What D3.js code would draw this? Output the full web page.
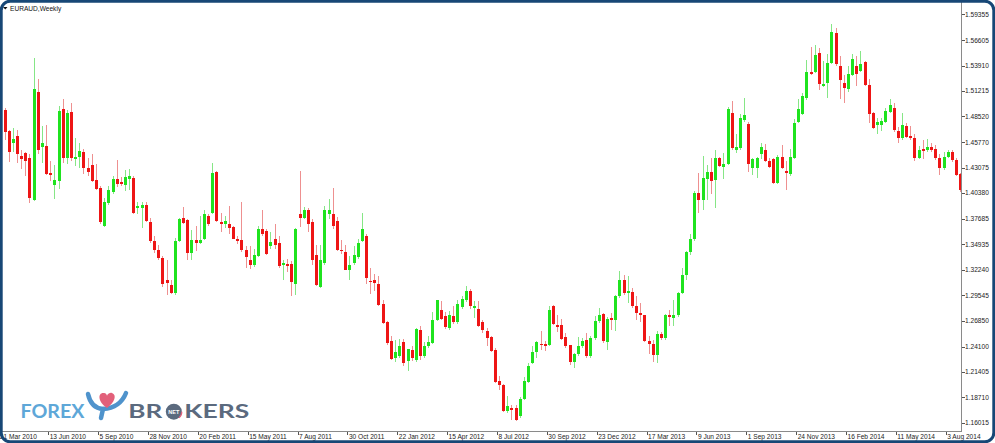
<!DOCTYPE html>
<html><head><meta charset="utf-8">
<script src="https://cdn.jsdelivr.net/npm/d3@7"></script>
<style>html,body{margin:0;padding:0;background:#fff;overflow:hidden}</style>
</head><body><svg id="c" width="995" height="443"></svg>
<script>
const chartTitle = "EURAUD,Weekly";
const firstWeek = "2010-03-28";
const open = [1.4919,1.4696,1.4565,1.4643,1.4430,1.4459,1.4406,1.3963,1.5110,1.4530,
1.4537,1.4247,1.4122,1.4165,1.4934,1.4413,1.4898,1.4403,1.4424,1.4473,
1.4307,1.4335,1.4172,1.4095,1.3694,1.3928,1.4048,1.4183,1.4154,1.4122,
1.4183,1.4201,1.3878,1.3878,1.3907,1.3729,1.3535,1.3439,1.3351,1.3113,
1.3067,1.2979,1.3527,1.3776,1.3751,1.3404,1.3538,1.3510,1.3546,1.3793,
1.3829,1.4260,1.3729,1.3705,1.3715,1.3680,1.3546,1.3538,1.3439,1.3333,
1.3280,1.3368,1.3652,1.3634,1.3474,1.3553,1.3510,1.3277,1.3287,1.3287,
1.3078,1.3811,1.3776,1.3864,1.3729,1.3376,1.3043,1.3298,1.3811,1.3811,
1.3740,1.3439,1.3411,1.3227,1.3298,1.3362,1.3527,1.3581,1.3110,1.3121,
1.3078,1.2866,1.2667,1.2465,1.2289,1.2306,1.2455,1.2253,1.2377,1.2263,
1.2589,1.2306,1.2420,1.2448,1.2696,1.2802,1.2738,1.2608,1.2731,1.2667,
1.2831,1.2901,1.2996,1.2820,1.2809,1.2667,1.2571,1.2508,1.2377,1.2040,
1.1998,1.1722,1.1758,1.1758,1.1668,1.1856,1.2034,1.2236,1.2353,1.2438,
1.2438,1.2430,1.2837,1.2635,1.2635,1.2508,1.2423,1.2246,1.2331,1.2412,
1.2483,1.2306,1.2501,1.2678,1.2756,1.2459,1.2714,1.2696,1.2943,1.3121,
1.2979,1.2990,1.2837,1.2767,1.2749,1.2473,1.2438,1.2316,1.2544,1.2501,
1.2741,1.2714,1.2741,1.2979,1.3174,1.3415,1.3546,1.4042,1.3960,1.4183,
1.4265,1.4172,1.4406,1.4314,1.4350,1.4891,1.4491,1.4512,1.4810,1.4775,
1.4307,1.4307,1.4456,1.4491,1.4377,1.4395,1.4148,1.4420,1.4271,1.4236,
1.4406,1.4796,1.4881,1.5043,1.5327,1.5327,1.5529,1.5174,1.5210,1.5423,
1.5741,1.5386,1.5210,1.5139,1.5291,1.5386,1.5333,1.5433,1.5185,1.4891,
1.4760,1.4760,1.4796,1.4902,1.4945,1.4696,1.4618,1.4749,1.4643,1.4618,
1.4413,1.4502,1.4491,1.4526,1.4502,1.4406,1.4300,1.4420,1.4477,1.4385,
1.4236];
const high = [1.4937,1.4703,1.4732,1.4707,1.4494,1.4473,1.4448,1.5476,1.5253,1.4749,
1.4757,1.4377,1.4332,1.4962,1.5033,1.4916,1.4990,1.4626,1.4565,1.4502,
1.4413,1.4448,1.4342,1.4109,1.3989,1.4112,1.4215,1.4388,1.4204,1.4282,
1.4289,1.4215,1.3946,1.3946,1.3942,1.3776,1.3581,1.3492,1.3368,1.3333,
1.3121,1.3564,1.3776,1.3893,1.3758,1.3644,1.3687,1.3800,1.3864,1.3811,
1.4360,1.4268,1.3829,1.3800,1.3899,1.3687,1.3588,1.3942,1.3474,1.3474,
1.3447,1.3687,1.3857,1.3652,1.3623,1.3705,1.3581,1.3333,1.3340,1.3315,
1.3670,1.4271,1.3893,1.3882,1.3758,1.3492,1.3492,1.3899,1.3978,1.4095,
1.3787,1.3538,1.3482,1.3368,1.3474,1.3546,1.3822,1.3599,1.3245,1.3184,
1.3163,1.2901,1.2678,1.2518,1.2476,1.2491,1.2491,1.2384,1.2412,1.2608,
1.2625,1.2455,1.2518,1.2773,1.2908,1.2890,1.2773,1.2784,1.2837,1.2901,
1.2943,1.3049,1.3022,1.2890,1.2890,1.2696,1.2608,1.2518,1.2395,1.2093,
1.2013,1.1881,1.1793,1.1785,1.1870,1.2083,1.2236,1.2412,1.2473,1.2571,
1.2473,1.2837,1.2847,1.2741,1.2706,1.2554,1.2430,1.2342,1.2508,1.2501,
1.2554,1.2518,1.2731,1.2820,1.2767,1.2720,1.2767,1.2961,1.3209,1.3174,
1.3156,1.3032,1.2943,1.2873,1.2749,1.2518,1.2483,1.2571,1.2565,1.2756,
1.2802,1.2908,1.2990,1.3245,1.3421,1.3599,1.4059,1.4254,1.4430,1.4335,
1.4406,1.4491,1.4420,1.4467,1.4951,1.5015,1.4661,1.4881,1.5043,1.4796,
1.4406,1.4420,1.4573,1.4562,1.4413,1.4413,1.4441,1.4547,1.4377,1.4502,
1.4820,1.5033,1.5104,1.5447,1.5588,1.5610,1.5575,1.5440,1.5518,1.5837,
1.5787,1.5493,1.5291,1.5386,1.5511,1.5493,1.5546,1.5440,1.5245,1.4902,
1.4838,1.4838,1.4945,1.5033,1.4998,1.4738,1.4891,1.4785,1.4749,1.4661,
1.4537,1.4597,1.4608,1.4573,1.4547,1.4448,1.4477,1.4491,1.4491,1.4406,
1.4254];
const low = [1.4597,1.4367,1.4473,1.4360,1.4289,1.4218,1.3935,1.3949,1.4448,1.4360,
1.4225,1.4165,1.3978,1.4077,1.4353,1.4342,1.4374,1.4324,1.4307,1.4236,
1.4218,1.4154,1.4069,1.3715,1.3680,1.3907,1.4024,1.4105,1.4112,1.4059,
1.4069,1.3811,1.3811,1.3670,1.3729,1.3510,1.3404,1.3333,1.3043,1.2961,
1.2972,1.2961,1.3514,1.3705,1.3333,1.3333,1.3421,1.3503,1.3538,1.3687,
1.3811,1.3729,1.3623,1.3670,1.3599,1.3546,1.3503,1.3418,1.3245,1.3234,
1.3259,1.3362,1.3588,1.3376,1.3447,1.3447,1.3245,1.3121,1.3198,1.2943,
1.2954,1.3680,1.3758,1.3623,1.3280,1.3049,1.3028,1.3280,1.3758,1.3659,
1.3421,1.3397,1.3219,1.3121,1.3280,1.3344,1.3514,1.3078,1.2972,1.3004,
1.2844,1.2653,1.2430,1.2263,1.2249,1.2292,1.2200,1.2146,1.2260,1.2249,
1.2271,1.2292,1.2398,1.2433,1.2685,1.2688,1.2600,1.2589,1.2653,1.2653,
1.2812,1.2887,1.2809,1.2717,1.2618,1.2558,1.2412,1.2356,1.2023,1.1952,
1.1718,1.1708,1.1633,1.1623,1.1655,1.1846,1.2026,1.2221,1.2292,1.2377,
1.2359,1.2420,1.2635,1.2568,1.2476,1.2398,1.2210,1.2183,1.2313,1.2398,
1.2292,1.2292,1.2483,1.2664,1.2451,1.2377,1.2589,1.2571,1.2929,1.2961,
1.2873,1.2823,1.2696,1.2671,1.2459,1.2331,1.2246,1.2236,1.2483,1.2483,
1.2625,1.2625,1.2727,1.2964,1.3121,1.3379,1.3532,1.3829,1.3854,1.3960,
1.4024,1.3875,1.4310,1.4183,1.4332,1.4498,1.4467,1.4498,1.4788,1.4265,
1.4225,1.4201,1.4395,1.4364,1.4300,1.4130,1.4133,1.4289,1.4066,1.4222,
1.4395,1.4778,1.4866,1.5030,1.5288,1.5309,1.5128,1.5160,1.5051,1.5405,
1.5386,1.5033,1.4998,1.5115,1.5277,1.5174,1.5320,1.5171,1.4785,1.4714,
1.4668,1.4696,1.4781,1.4887,1.4690,1.4573,1.4605,1.4618,1.4597,1.4377,
1.4395,1.4395,1.4470,1.4470,1.4392,1.4229,1.4286,1.4406,1.4371,1.4215,
1.4055];
const close = [1.4685,1.4473,1.4615,1.4448,1.4403,1.4377,1.3989,1.5146,1.4494,1.4565,
1.4236,1.4229,1.4172,1.4908,1.4413,1.4884,1.4413,1.4424,1.4483,1.4307,
1.4260,1.4165,1.4077,1.3729,1.3946,1.4069,1.4183,1.4130,1.4137,1.4212,
1.4218,1.3822,1.3899,1.3907,1.3740,1.3527,1.3439,1.3351,1.3078,1.3086,
1.2979,1.3527,1.3765,1.3723,1.3404,1.3538,1.3510,1.3538,1.3811,1.3705,
1.4247,1.3740,1.3712,1.3740,1.3670,1.3553,1.3527,1.3432,1.3362,1.3280,
1.3376,1.3662,1.3609,1.3397,1.3524,1.3482,1.3269,1.3298,1.3262,1.3096,
1.3662,1.3776,1.3857,1.3715,1.3333,1.3067,1.3326,1.3864,1.3857,1.3694,
1.3432,1.3421,1.3227,1.3280,1.3386,1.3510,1.3659,1.3139,1.3092,1.3086,
1.2855,1.2661,1.2448,1.2278,1.2348,1.2420,1.2236,1.2384,1.2289,1.2597,
1.2306,1.2420,1.2455,1.2688,1.2901,1.2703,1.2618,1.2749,1.2667,1.2866,
1.2916,1.2996,1.2837,1.2844,1.2632,1.2589,1.2501,1.2366,1.2034,1.1998,
1.1729,1.1775,1.1732,1.1633,1.1856,1.2040,1.2200,1.2353,1.2459,1.2423,
1.2412,1.2802,1.2650,1.2614,1.2494,1.2412,1.2246,1.2331,1.2412,1.2473,
1.2306,1.2501,1.2678,1.2749,1.2465,1.2706,1.2696,1.2943,1.3121,1.2979,
1.2996,1.2837,1.2767,1.2741,1.2473,1.2438,1.2316,1.2544,1.2501,1.2741,
1.2720,1.2741,1.2979,1.3174,1.3415,1.3546,1.4042,1.3960,1.4194,1.4265,
1.4165,1.4406,1.4324,1.4350,1.4927,1.4512,1.4526,1.4838,1.4866,1.4350,
1.4395,1.4406,1.4526,1.4377,1.4314,1.4148,1.4420,1.4307,1.4250,1.4420,
1.4785,1.4927,1.5068,1.5327,1.5306,1.5503,1.5192,1.5200,1.5423,1.5752,
1.5405,1.5235,1.5157,1.5306,1.5458,1.5298,1.5405,1.5185,1.4881,1.4732,
1.4796,1.4802,1.4908,1.4972,1.4703,1.4618,1.4760,1.4632,1.4618,1.4406,
1.4491,1.4483,1.4526,1.4491,1.4406,1.4300,1.4420,1.4477,1.4385,1.4229,
1.4066];
const priceTicks = ["1.59355","1.56605","1.53910","1.51215","1.48520","1.45770","1.43075","1.40380","1.37685","1.34935","1.32240","1.29545","1.26850","1.24100","1.21405","1.18710","1.16015"];
const dateTicks = ["21 Mar 2010","13 Jun 2010","5 Sep 2010","28 Nov 2010","20 Feb 2011","15 May 2011","7 Aug 2011","30 Oct 2011","22 Jan 2012","15 Apr 2012","8 Jul 2012","30 Sep 2012","23 Dec 2012","17 Mar 2013","9 Jun 2013","1 Sep 2013","24 Nov 2013","16 Feb 2014","11 May 2014","3 Aug 2014"];

const svg = d3.select("#c");
const W = 995, H = 443;
const plotRight = 961.5, plotBottom = 431.5;
const font = "'Liberation Sans', Arial, sans-serif";

const t0 = d3.utcParse("%Y-%m-%d")(firstWeek);
const dates = open.map((_, i) => d3.utcDay.offset(t0, 7 * i));
const x = d3.scaleUtc().domain([dates[0], dates[dates.length - 1]]).range([4.5, 960.2]);
const y = d3.scaleLinear().domain([1.16015, 1.59355]).range([422.7, 14.3]);

svg.append("rect").attr("width", W).attr("height", H).attr("fill", "#fff");

const candles = dates.map((d, i) => ({ d, o: open[i], h: high[i], l: low[i], c: close[i] }));
const up = "#1fe31f", dn = "#ee1515", upW = "#86e686", dnW = "#ee9090";

const g = svg.append("g").attr("shape-rendering", "crispEdges");
g.selectAll("line.w").data(candles).join("line")
  .attr("x1", d => Math.round(x(d.d)) + 0.5).attr("x2", d => Math.round(x(d.d)) + 0.5)
  .attr("y1", d => y(d.h)).attr("y2", d => y(d.l))
  .attr("stroke", d => d.c >= d.o ? upW : dnW).attr("stroke-width", 1);
g.selectAll("rect.b").data(candles).join("rect")
  .attr("x", d => Math.round(x(d.d)) - 1).attr("width", 3)
  .attr("y", d => y(Math.max(d.o, d.c)))
  .attr("height", d => Math.max(1.2, Math.abs(y(d.o) - y(d.c))))
  .attr("fill", d => d.c >= d.o ? up : dn);

// axes lines
const ax = svg.append("g").attr("shape-rendering", "crispEdges");
ax.append("line").attr("x1", plotRight).attr("x2", plotRight).attr("y1", 2).attr("y2", plotBottom).attr("stroke", "#8a8a8a");
ax.append("line").attr("x1", 0).attr("x2", plotRight).attr("y1", plotBottom).attr("y2", plotBottom).attr("stroke", "#8a8a8a");

// price axis
priceTicks.forEach(t => {
  const yy = Math.round(y(+t)) + 0.5;
  ax.append("line").attr("x1", plotRight).attr("x2", plotRight + 3).attr("y1", yy).attr("y2", yy).attr("stroke", "#555");
  svg.append("text").attr("x", 965).attr("y", y(+t)).attr("dy", "0.35em")
    .attr("font-family", font).attr("font-size", 6.6).attr("fill", "#222").text(t);
});

// time axis
const pd = d3.utcParse("%d %b %Y");
dateTicks.forEach(t => {
  const xx = x(pd(t));
  const tx = Math.round(xx - 2) + 0.5;
  ax.append("line").attr("x1", tx).attr("x2", tx).attr("y1", plotBottom).attr("y2", plotBottom + 3).attr("stroke", "#555");
  svg.append("text").attr("x", xx - 0.5).attr("y", 439.3)
    .attr("font-family", font).attr("font-size", 6.6).attr("fill", "#222").text(t);
});

// title
svg.append("path").attr("d", "M3,7 L7.5,7 L5.25,9.6 Z").attr("fill", "#111");
svg.append("text").attr("x", 10).attr("y", 10.6).attr("font-family", font).attr("font-size", 6.6).attr("fill", "#111").text(chartTitle);

// watermark logo
const logoFont = "Lato, 'Open Sans', Arial, sans-serif";
const logo = svg.append("g");
logo.append("text").attr("x", 20.5).attr("y", 418.3).attr("font-family", logoFont)
  .attr("font-weight", 700).attr("font-size", 18.5).attr("fill", "#5ea7d8")
  .attr("textLength", 64).attr("lengthAdjust", "spacingAndGlyphs").text("FOREX");
logo.append("path").attr("d", "M101,418 L103,409 Q91,408 88,394").attr("fill", "none").attr("stroke", "#4f93cc").attr("stroke-width", 4.5).attr("stroke-linecap", "round");
logo.append("path").attr("d", "M103,409 Q120,408 126,393").attr("fill", "none").attr("stroke", "#4f93cc").attr("stroke-width", 4.5).attr("stroke-linecap", "round");
logo.append("path").attr("d", "M107,408 C97,401 98,392 104,393 C106,393 107,395 107,396 C107,395 109,392 112,393 C117,395 115,402 107,408 Z").attr("fill", "#e2607a");
logo.append("text").attr("x", 128.3).attr("y", 418.3).attr("font-family", logoFont)
  .attr("font-weight", 700).attr("font-size", 18.5).attr("fill", "#5b6a7e")
  .attr("textLength", 34).attr("lengthAdjust", "spacingAndGlyphs").text("BR");
logo.append("circle").attr("cx", 173.8).attr("cy", 411.7).attr("r", 8).attr("fill", "#5b6a7e");
logo.append("circle").attr("cx", 173.8).attr("cy", 411.7).attr("r", 8).attr("fill", "none").attr("stroke", "#e2607a").attr("stroke-width", 1.2).attr("stroke-dasharray", "7 44");
logo.append("text").attr("x", 173.8).attr("y", 413.8).attr("text-anchor", "middle").attr("font-family", font)
  .attr("font-weight", 700).attr("font-size", 5.5).attr("fill", "#fff").text("NET");
logo.append("text").attr("x", 184.3).attr("y", 418.3).attr("font-family", logoFont)
  .attr("font-weight", 700).attr("font-size", 18.5).attr("fill", "#5b6a7e")
  .attr("textLength", 65).attr("lengthAdjust", "spacingAndGlyphs").text("KERS");

// outer frame
svg.append("rect").attr("x", 1.2).attr("y", 1.2).attr("width", W - 2.4).attr("height", H - 2.4)
  .attr("rx", 9).attr("fill", "none").attr("stroke", "#174776").attr("stroke-width", 3);
</script>
</body></html>
